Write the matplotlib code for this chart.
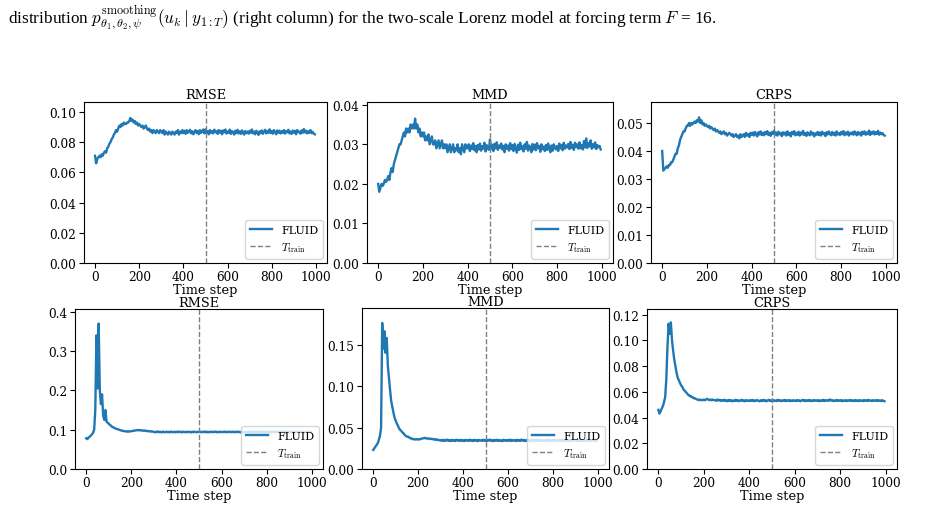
import numpy as np
import matplotlib
matplotlib.use("Agg")
import matplotlib.pyplot as plt

plt.rcParams['font.family'] = ['DejaVu Serif']
plt.rcParams['mathtext.fontset'] = 'cm'

caption = (r"distribution $p^{\mathrm{smoothing}}_{\theta_1,\theta_2,\psi}(u_k \mid y_{1:T})$"
           r" (right column) for the two-scale Lorenz model at forcing term $F$ = 16.")

titles = ["RMSE", "MMD", "CRPS", "RMSE", "MMD", "CRPS"]
xlabel = "Time step"
legend_labels = ["FLUID", r"$T_{\mathrm{train}}$"]
t_train = 500
time_steps = np.arange(0, 1000, 5)

rmse_filtering = [
    0.071, 0.066, 0.069, 0.070, 0.071, 0.070, 0.072, 0.071, 0.073, 0.074,
    0.073, 0.076, 0.077, 0.079, 0.080, 0.082, 0.083, 0.085, 0.086, 0.088,
    0.087, 0.089, 0.091, 0.090, 0.092, 0.091, 0.093, 0.092, 0.092, 0.093,
    0.093, 0.094, 0.096, 0.094, 0.095, 0.093, 0.094, 0.092, 0.093, 0.091,
    0.092, 0.091, 0.090, 0.091, 0.089, 0.090, 0.091, 0.089, 0.088, 0.089,
    0.087, 0.088, 0.086, 0.088, 0.087, 0.086, 0.088, 0.087, 0.086, 0.088,
    0.087, 0.086, 0.088, 0.085, 0.087, 0.086, 0.085, 0.087, 0.086, 0.085,
    0.087, 0.086, 0.085, 0.087, 0.086, 0.088, 0.085, 0.087, 0.086, 0.088,
    0.0860, 0.0875, 0.0855, 0.0880, 0.0862, 0.0870, 0.0882, 0.0858, 0.0872, 0.0852,
    0.0870, 0.0880, 0.0860, 0.0874, 0.0853, 0.0880, 0.0862, 0.0871, 0.0884, 0.0858,
    0.0885, 0.0860, 0.0873, 0.0852, 0.0880, 0.0862, 0.0874, 0.0858, 0.0883, 0.0866,
    0.0872, 0.0855, 0.0880, 0.0863, 0.0876, 0.0852, 0.0878, 0.0866, 0.0884, 0.0857,
    0.0870, 0.0862, 0.0883, 0.0855, 0.0873, 0.0866, 0.0850, 0.0876, 0.0860, 0.0882,
    0.0858, 0.0872, 0.0855, 0.0878, 0.0863, 0.0850, 0.0874, 0.0860, 0.0870, 0.0856,
    0.0876, 0.0862, 0.0884, 0.0858, 0.0870, 0.0852, 0.0876, 0.0864, 0.0848, 0.0872,
    0.0860, 0.0878, 0.0855, 0.0868, 0.0882, 0.0858, 0.0873, 0.0862, 0.0885, 0.0860,
    0.0874, 0.0856, 0.0880, 0.0866, 0.0852, 0.0878, 0.0862, 0.0876, 0.0858, 0.0872,
    0.0862, 0.0880, 0.0857, 0.0873, 0.0865, 0.0882, 0.0858, 0.0870, 0.0855, 0.0877,
    0.0863, 0.0875, 0.0852, 0.0880, 0.0866, 0.0870, 0.0856, 0.0878, 0.0862, 0.0887,
    0.0864, 0.0876, 0.0858, 0.0872, 0.0862, 0.0880, 0.0860, 0.0868, 0.0856, 0.0852,
]

mmd_filtering = [
    0.020, 0.018, 0.019, 0.020, 0.0195, 0.020, 0.021, 0.0205, 0.021, 0.022,
    0.021, 0.023, 0.024, 0.023, 0.025, 0.026, 0.027, 0.028, 0.029, 0.030,
    0.030, 0.031, 0.032, 0.033, 0.032, 0.034, 0.033, 0.034, 0.033, 0.035,
    0.034, 0.035, 0.034, 0.0365, 0.034, 0.035, 0.033, 0.034, 0.032, 0.033,
    0.032, 0.033, 0.031, 0.032, 0.031, 0.0325, 0.030, 0.031, 0.032, 0.030,
    0.030, 0.031, 0.029, 0.030, 0.031, 0.029, 0.030, 0.031, 0.029, 0.030,
    0.029, 0.030, 0.028, 0.029, 0.030, 0.028, 0.029, 0.030, 0.028, 0.029,
    0.0285, 0.030, 0.028, 0.029, 0.0275, 0.030, 0.029, 0.028, 0.030, 0.029,
    0.0290, 0.0300, 0.0283, 0.0297, 0.0288, 0.0303, 0.0285, 0.0296, 0.0280, 0.0298,
    0.0287, 0.0302, 0.0284, 0.0295, 0.0289, 0.0304, 0.0282, 0.0298, 0.0290, 0.0286,
    0.0312, 0.0288, 0.0299, 0.0283, 0.0301, 0.0290, 0.0305, 0.0286, 0.0297, 0.0291,
    0.0302, 0.0287, 0.0296, 0.0280, 0.0300, 0.0289, 0.0297, 0.0284, 0.0303, 0.0288,
    0.0298, 0.0283, 0.0301, 0.0290, 0.0279, 0.0299, 0.0286, 0.0304, 0.0288, 0.0295,
    0.0282, 0.0300, 0.0289, 0.0306, 0.0284, 0.0297, 0.0291, 0.0280, 0.0301, 0.0287,
    0.0299, 0.0285, 0.0303, 0.0290, 0.0296, 0.0281, 0.0300, 0.0288, 0.0294, 0.0283,
    0.0298, 0.0286, 0.0302, 0.0289, 0.0280, 0.0297, 0.0284, 0.0300, 0.0291, 0.0287,
    0.0296, 0.0283, 0.0302, 0.0290, 0.0298, 0.0285, 0.0304, 0.0289, 0.0297, 0.0292,
    0.0301, 0.0288, 0.0306, 0.0291, 0.0299, 0.0286, 0.0304, 0.0293, 0.0300, 0.0289,
    0.0305, 0.0290, 0.0298, 0.0287, 0.0308, 0.0292, 0.0315, 0.0291, 0.0303, 0.0295,
    0.0310, 0.0289, 0.0300, 0.0292, 0.0305, 0.0288, 0.0298, 0.0293, 0.0296, 0.0287,
]

crps_filtering = [
    0.040, 0.033, 0.0335, 0.034, 0.0345, 0.034, 0.035, 0.035, 0.036, 0.036,
    0.037, 0.038, 0.039, 0.039, 0.041, 0.042, 0.044, 0.045, 0.046, 0.047,
    0.047, 0.048, 0.049, 0.049, 0.050, 0.049, 0.050, 0.0495, 0.050, 0.0505,
    0.050, 0.051, 0.0505, 0.052, 0.050, 0.051, 0.0495, 0.050, 0.049, 0.0495,
    0.049, 0.0485, 0.049, 0.048, 0.0485, 0.048, 0.0475, 0.048, 0.047, 0.0475,
    0.047, 0.0465, 0.047, 0.046, 0.0465, 0.047, 0.046, 0.0465, 0.0455, 0.046,
    0.0465, 0.046, 0.0455, 0.046, 0.045, 0.0455, 0.046, 0.045, 0.0455, 0.0445,
    0.046, 0.045, 0.0455, 0.046, 0.045, 0.0465, 0.0455, 0.046, 0.045, 0.0465,
    0.0458, 0.0466, 0.0455, 0.0468, 0.0460, 0.0452, 0.0467, 0.0459, 0.0470, 0.0457,
    0.0465, 0.0456, 0.0468, 0.0460, 0.0471, 0.0457, 0.0465, 0.0454, 0.0467, 0.0461,
    0.0472, 0.0458, 0.0466, 0.0455, 0.0469, 0.0460, 0.0464, 0.0453, 0.0467, 0.0459,
    0.0466, 0.0455, 0.0470, 0.0458, 0.0464, 0.0452, 0.0468, 0.0460, 0.0471, 0.0456,
    0.0465, 0.0458, 0.0469, 0.0455, 0.0466, 0.0459, 0.0472, 0.0457, 0.0464, 0.0454,
    0.0467, 0.0460, 0.0456, 0.0470, 0.0459, 0.0465, 0.0452, 0.0463, 0.0458, 0.0468,
    0.0457, 0.0466, 0.0455, 0.0469, 0.0460, 0.0464, 0.0453, 0.0467, 0.0459, 0.0470,
    0.0461, 0.0456, 0.0468, 0.0458, 0.0465, 0.0455, 0.0470, 0.0459, 0.0464, 0.0457,
    0.0468, 0.0460, 0.0471, 0.0456, 0.0466, 0.0459, 0.0469, 0.0455, 0.0465, 0.0460,
    0.0467, 0.0458, 0.0470, 0.0462, 0.0456, 0.0468, 0.0459, 0.0466, 0.0455, 0.0469,
    0.0461, 0.0470, 0.0458, 0.0466, 0.0460, 0.0473, 0.0457, 0.0468, 0.0462, 0.0470,
    0.0459, 0.0467, 0.0461, 0.0472, 0.0458, 0.0466, 0.0460, 0.0464, 0.0457, 0.0455,
]

rmse_smoothing = [
    0.078, 0.076, 0.080, 0.082, 0.085, 0.088, 0.092, 0.100, 0.150, 0.340,
    0.205, 0.370, 0.200, 0.165, 0.190, 0.135, 0.125, 0.150, 0.120, 0.118,
    0.115, 0.112, 0.110, 0.107, 0.106, 0.104, 0.103, 0.102, 0.101, 0.100,
    0.099, 0.098, 0.097, 0.097, 0.096, 0.096, 0.095, 0.096, 0.095, 0.096,
    0.096, 0.097, 0.097, 0.098, 0.098, 0.099, 0.099, 0.098, 0.099, 0.098,
    0.098, 0.097, 0.098, 0.097, 0.096, 0.097, 0.096, 0.095, 0.096, 0.095,
    0.0945, 0.0932, 0.0950, 0.0938, 0.0955, 0.0935, 0.0948, 0.0930, 0.0952, 0.0940,
    0.0933, 0.0950, 0.0938, 0.0946, 0.0930, 0.0952, 0.0941, 0.0935, 0.0948, 0.0932,
    0.0949, 0.0936, 0.0953, 0.0939, 0.0946, 0.0931, 0.0950, 0.0937, 0.0944, 0.0934,
    0.0951, 0.0938, 0.0945, 0.0930, 0.0948, 0.0936, 0.0952, 0.0940, 0.0934, 0.0947,
    0.0937, 0.0950, 0.0933, 0.0946, 0.0939, 0.0954, 0.0935, 0.0948, 0.0931, 0.0945,
    0.0938, 0.0951, 0.0934, 0.0947, 0.0940, 0.0953, 0.0932, 0.0946, 0.0937, 0.0950,
    0.0935, 0.0948, 0.0939, 0.0952, 0.0933, 0.0945, 0.0938, 0.0951, 0.0936, 0.0944,
    0.0949, 0.0934, 0.0947, 0.0938, 0.0953, 0.0936, 0.0946, 0.0931, 0.0950, 0.0940,
    0.0933, 0.0948, 0.0937, 0.0952, 0.0935, 0.0946, 0.0939, 0.0954, 0.0934, 0.0947,
    0.0940, 0.0951, 0.0936, 0.0945, 0.0932, 0.0949, 0.0938, 0.0953, 0.0935, 0.0946,
    0.0939, 0.0950, 0.0933, 0.0947, 0.0936, 0.0952, 0.0941, 0.0934, 0.0948, 0.0937,
    0.0951, 0.0935, 0.0946, 0.0939, 0.0953, 0.0932, 0.0947, 0.0938, 0.0950, 0.0936,
    0.0945, 0.0933, 0.0949, 0.0940, 0.0952, 0.0935, 0.0946, 0.0938, 0.0951, 0.0934,
    0.0947, 0.0937, 0.0950, 0.0936, 0.0944, 0.0939, 0.0952, 0.0935, 0.0946, 0.0938,
]

mmd_smoothing = [
    0.023, 0.025, 0.027, 0.029, 0.031, 0.035, 0.040, 0.050, 0.176, 0.145,
    0.166, 0.140, 0.158, 0.125, 0.110, 0.095, 0.082, 0.075, 0.068, 0.062,
    0.058, 0.055, 0.052, 0.049, 0.047, 0.046, 0.044, 0.043, 0.041, 0.040,
    0.039, 0.039, 0.038, 0.037, 0.037, 0.036, 0.036, 0.0355, 0.036, 0.0355,
    0.036, 0.0355, 0.036, 0.0365, 0.037, 0.037, 0.0375, 0.037, 0.0365, 0.037,
    0.0365, 0.036, 0.0365, 0.036, 0.0355, 0.036, 0.035, 0.0355, 0.035, 0.0345,
    0.0348, 0.0340, 0.0352, 0.0338, 0.0350, 0.0342, 0.0355, 0.0339, 0.0349, 0.0336,
    0.0351, 0.0341, 0.0347, 0.0337, 0.0353, 0.0343, 0.0349, 0.0338, 0.0352, 0.0340,
    0.0346, 0.0336, 0.0351, 0.0342, 0.0348, 0.0339, 0.0354, 0.0340, 0.0347, 0.0337,
    0.0352, 0.0341, 0.0349, 0.0336, 0.0350, 0.0343, 0.0346, 0.0338, 0.0353, 0.0340,
    0.0348, 0.0337, 0.0351, 0.0342, 0.0355, 0.0339, 0.0347, 0.0336, 0.0350, 0.0341,
    0.0353, 0.0338, 0.0349, 0.0340, 0.0346, 0.0335, 0.0352, 0.0342, 0.0348, 0.0339,
    0.0351, 0.0340, 0.0354, 0.0337, 0.0349, 0.0343, 0.0347, 0.0336, 0.0352, 0.0341,
    0.0348, 0.0338, 0.0355, 0.0342, 0.0350, 0.0337, 0.0346, 0.0340, 0.0353, 0.0339,
    0.0347, 0.0336, 0.0351, 0.0343, 0.0349, 0.0338, 0.0356, 0.0341, 0.0348, 0.0337,
    0.0352, 0.0340, 0.0346, 0.0335, 0.0350, 0.0342, 0.0354, 0.0339, 0.0347, 0.0341,
    0.0349, 0.0337, 0.0353, 0.0340, 0.0348, 0.0343, 0.0351, 0.0336, 0.0355, 0.0342,
    0.0346, 0.0338, 0.0352, 0.0341, 0.0349, 0.0337, 0.0354, 0.0340, 0.0347, 0.0343,
    0.0351, 0.0339, 0.0348, 0.0336, 0.0353, 0.0342, 0.0350, 0.0338, 0.0346, 0.0341,
    0.0352, 0.0340, 0.0348, 0.0337, 0.0350, 0.0343, 0.0347, 0.0339, 0.0351, 0.0342,
]

crps_smoothing = [
    0.046, 0.043, 0.045, 0.047, 0.049, 0.052, 0.056, 0.070, 0.095, 0.113,
    0.105, 0.114, 0.100, 0.092, 0.085, 0.080, 0.075, 0.071, 0.069, 0.067,
    0.065, 0.064, 0.062, 0.061, 0.060, 0.059, 0.058, 0.057, 0.057, 0.056,
    0.056, 0.055, 0.055, 0.0545, 0.054, 0.054, 0.0535, 0.054, 0.0535, 0.0535,
    0.054, 0.0535, 0.054, 0.0545, 0.054, 0.0535, 0.054, 0.0535, 0.054, 0.0535,
    0.0536, 0.0530, 0.0541, 0.0533, 0.0538, 0.0529, 0.0535, 0.0531, 0.0539, 0.0528,
    0.0534, 0.0527, 0.0537, 0.0530, 0.0535, 0.0526, 0.0533, 0.0528, 0.0538, 0.0529,
    0.0535, 0.0527, 0.0532, 0.0538, 0.0529, 0.0534, 0.0526, 0.0536, 0.0530, 0.0533,
    0.0528, 0.0535, 0.0530, 0.0537, 0.0527, 0.0533, 0.0529, 0.0536, 0.0531, 0.0526,
    0.0534, 0.0528, 0.0537, 0.0530, 0.0535, 0.0526, 0.0532, 0.0538, 0.0529, 0.0534,
    0.0527, 0.0536, 0.0530, 0.0533, 0.0528, 0.0538, 0.0531, 0.0535, 0.0527, 0.0533,
    0.0530, 0.0537, 0.0528, 0.0534, 0.0531, 0.0536, 0.0527, 0.0533, 0.0529, 0.0535,
    0.0531, 0.0528, 0.0536, 0.0530, 0.0534, 0.0527, 0.0533, 0.0538, 0.0529, 0.0535,
    0.0528, 0.0534, 0.0530, 0.0537, 0.0527, 0.0533, 0.0529, 0.0536, 0.0531, 0.0534,
    0.0529, 0.0535, 0.0527, 0.0533, 0.0530, 0.0538, 0.0528, 0.0534, 0.0531, 0.0536,
    0.0530, 0.0541, 0.0532, 0.0535, 0.0528, 0.0533, 0.0530, 0.0537, 0.0529, 0.0534,
    0.0531, 0.0536, 0.0527, 0.0533, 0.0530, 0.0535, 0.0528, 0.0534, 0.0531, 0.0537,
    0.0529, 0.0533, 0.0528, 0.0536, 0.0530, 0.0534, 0.0527, 0.0535, 0.0531, 0.0533,
    0.0528, 0.0536, 0.0530, 0.0534, 0.0529, 0.0537, 0.0531, 0.0533, 0.0528, 0.0535,
    0.0531, 0.0534, 0.0529, 0.0536, 0.0530, 0.0533, 0.0528, 0.0535, 0.0530, 0.0527,
]

series = [rmse_filtering, mmd_filtering, crps_filtering,
          rmse_smoothing, mmd_smoothing, crps_smoothing]
y_tops = [0.1066, 0.0407, 0.0575, 0.407, 0.194, 0.1244]
y_ticks = [
    [0.00, 0.02, 0.04, 0.06, 0.08, 0.10],
    [0.00, 0.01, 0.02, 0.03, 0.04],
    [0.00, 0.01, 0.02, 0.03, 0.04, 0.05],
    [0.0, 0.1, 0.2, 0.3, 0.4],
    [0.00, 0.05, 0.10, 0.15],
    [0.00, 0.02, 0.04, 0.06, 0.08, 0.10, 0.12],
]
y_fmt = ["%.2f", "%.2f", "%.2f", "%.1f", "%.2f", "%.2f"]

W, H = 952, 506
fig = plt.figure(figsize=(W / 100, H / 100), dpi=100)

# axes boxes in pixels: left, top, right, bottom
boxes = [
    (84, 103, 327, 264), (367, 103, 613, 264), (651, 103, 897, 264),
    (75, 310, 323, 470), (362, 309, 609, 470), (647, 310, 897, 470),
]

for i, (l, t, r, b) in enumerate(boxes):
    ax = fig.add_axes([l / W, 1 - b / H, (r - l) / W, (b - t) / H])
    ax.plot(time_steps, series[i], color='#1f77b4', lw=1.7, label=legend_labels[0])
    ax.axvline(t_train, color='gray', ls='--', lw=1.0, label=legend_labels[1])
    ax.set_xlim(-50, 1050)
    ax.set_ylim(0, y_tops[i])
    ax.set_xticks([0, 200, 400, 600, 800, 1000])
    ax.set_yticks(y_ticks[i])
    ax.set_yticklabels([y_fmt[i] % v for v in y_ticks[i]])
    ax.tick_params(labelsize=8.7, length=3.5, width=0.8, pad=2)
    ax.tick_params(axis='x', pad=1.5)
    ax.set_title(titles[i], fontsize=9.3, pad=3 if i < 3 else 1)
    ax.set_xlabel(xlabel, fontsize=9.3, labelpad=0)
    leg = ax.legend(loc='lower right', fontsize=8, handlelength=2.0,
                    borderaxespad=0.4)

fig.text(8 / W, 1 - 18 / H, caption, fontsize=12.4, va='center', ha='left',
         family='Liberation Serif')

fig.savefig("out.png", dpi=100)
